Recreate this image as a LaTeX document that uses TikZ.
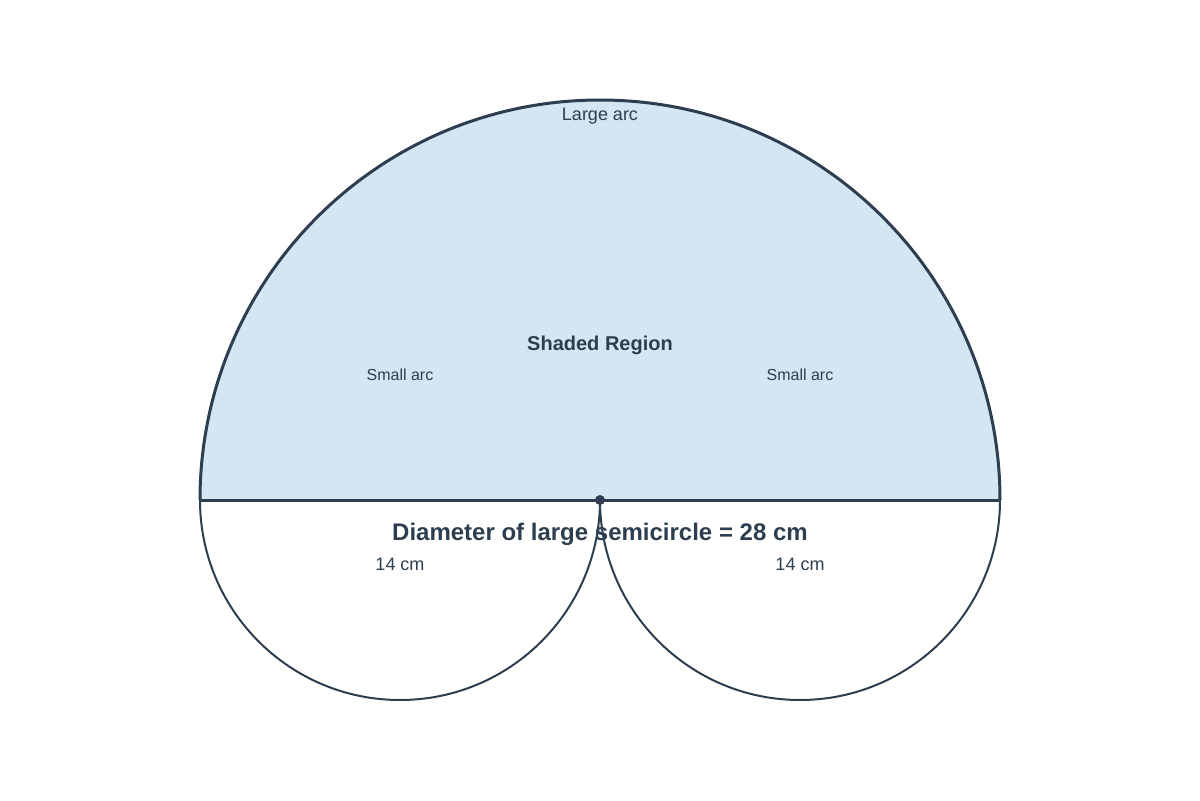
\documentclass[tikz,border=0pt]{standalone}
\usepackage{fontspec}
\setmainfont{Liberation Sans}
\definecolor{ink}{HTML}{2C3E50}
\definecolor{regionfill}{HTML}{D4E6F1}
\begin{document}
\begin{tikzpicture}[x=0.5pt,y=0.5pt,
  lbl/.style={text=ink,inner sep=0pt,anchor=center},
  thick line/.style={draw=ink,line width=1.5pt},
  thin line/.style={draw=ink,line width=1pt}]
\useasboundingbox (0,0) rectangle (1200,800);
% shaded region
\fill[fill=regionfill] (200,300) arc[start angle=180,end angle=0,radius=400] -- cycle;
% small semicircles below
\draw[thin line] (200,300) arc[start angle=180,end angle=360,radius=200];
\draw[thin line] (600,300) arc[start angle=180,end angle=360,radius=200];
% large arc
\draw[thick line] (200,300) arc[start angle=180,end angle=0,radius=400];
% diameter
\coordinate (L) at (200,300);
\coordinate (R) at (1000,300);
\node[circle,fill=ink,inner sep=0pt,minimum size=5pt] (C) at (600,300) {};
\draw[thick line] (L) -- (R);
% labels
\node[lbl,font=\fontsize{9pt}{10pt}\selectfont] (large) at (600,684) {Large arc};
\node[lbl,font=\fontsize{10pt}{12pt}\selectfont\bfseries] (shaded) at (600,455) {Shaded Region};
\node[lbl,font=\fontsize{8pt}{10pt}\selectfont] (sa1) at (400,425) {Small arc};
\node[lbl,font=\fontsize{8pt}{10pt}\selectfont] (sa2) at (800,425) {Small arc};
\node[lbl,font=\fontsize{12pt}{14pt}\selectfont\bfseries] (diam) at (600,266) {Diameter of large semicircle = 28 cm};
\node[lbl,font=\fontsize{9pt}{10pt}\selectfont] (r1) at (400,236) {14 cm};
\node[lbl,font=\fontsize{9pt}{10pt}\selectfont] (r2) at (800,236) {14 cm};
\end{tikzpicture}
\end{document}
